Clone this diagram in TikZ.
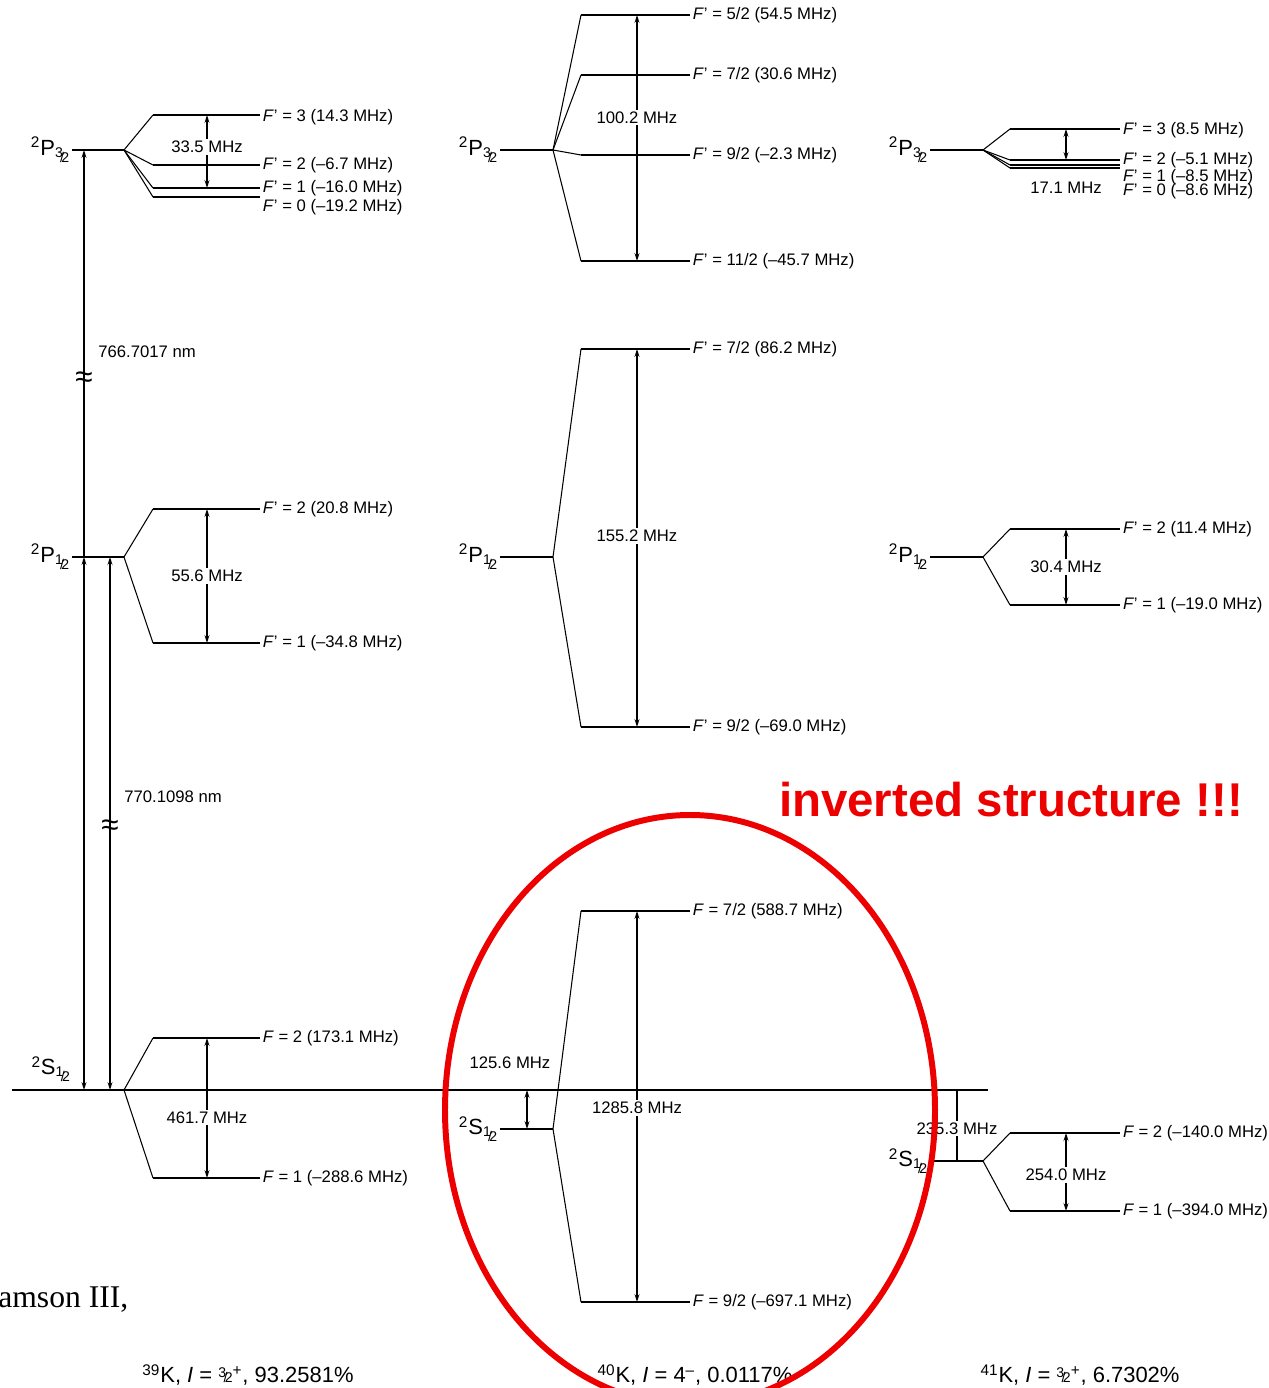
\documentclass[tikz,border=0pt]{standalone}
\usepackage{fontspec}
\setmainfont{Liberation Sans}
\newfontfamily\notefont{Liberation Serif}
\usetikzlibrary{arrows.meta,calc}
\definecolor{RingClr}{rgb}{0.93,0,0}
\newcommand{\hfr}[2]{\raisebox{.45ex}{\footnotesize#1}\kern-.12em{\footnotesize/}\kern-.12em{\footnotesize#2}}
\newcommand{\jsub}[1]{\raisebox{-.6ex}{\hfr{#1}{2}}}
\newcommand{\Fp}{\textit{F\/}' = }
\newcommand{\Fg}{\textit{F\/} = }

\begin{document}
\begin{tikzpicture}[x=0.02cm,y=-0.02cm,
  lvl/.style={line width=1.1pt},
  fan/.style={line width=0.6pt},
  gapline/.style={line width=0.7pt,{Stealth[length=4.5pt,width=2.8pt]}-{Stealth[length=4.5pt,width=2.8pt]}},
  lab/.style={anchor=west,inner sep=1.5pt,font=\fontsize{9.5}{10}\selectfont},
  mhz/.style={fill=white,inner sep=1pt,font=\fontsize{9.5}{10}\selectfont},
  term/.style={inner sep=1pt,font=\fontsize{12.5}{13}\selectfont},
  brk/.style={inner sep=0pt,font=\fontsize{18}{18}\selectfont},
  title/.style={font=\fontsize{12.5}{13}\selectfont}]
\useasboundingbox (0,0) rectangle (1268,1388);

% ground state line
\draw[lvl] (12,1090) -- (988,1090);

% 39K
\coordinate (a3) at (124,150);
\coordinate (a1) at (124,557);
\coordinate (as) at (124,1090);
\draw[lvl] (72,150) node[term,anchor=east] (ta3) {\textsuperscript{2}P\jsub{3}} -- (a3);
\draw[lvl] (72,557) node[term,anchor=east] (ta1) {\textsuperscript{2}P\jsub{1}} -- (a1);
\node[term,anchor=south east] (tas) at (72,1084) {\textsuperscript{2}S\jsub{1}};
\foreach \y/\ly/\t [count=\i] in {115/117/{3 (14.3 MHz)},165/165/{2 (--6.7 MHz)},188/188/{1 (--16.0 MHz)},197/207/{0 (--19.2 MHz)}}
{
  \draw[fan] (a3) -- (153,\y);
  \draw[lvl] (153,\y) -- (260,\y);
  \node[lab] (la3\i) at (260,\ly) {\Fp\t};
}
\foreach \y/\t [count=\i] in {509/{2 (20.8 MHz)},643/{1 (--34.8 MHz)}}
{
  \draw[fan] (a1) -- (153,\y);
  \draw[lvl] (153,\y) -- (260,\y);
  \node[lab] (la1\i) at (260,\y) {\Fp\t};
}
\foreach \y/\t [count=\i] in {1038/{2 (173.1 MHz)},1178/{1 (--288.6 MHz)}}
{
  \draw[fan] (as) -- (153,\y);
  \draw[lvl] (153,\y) -- (260,\y);
  \node[lab] (las\i) at (260,\y) {\Fg\t};
}
\draw[gapline] (207,115) -- (207,188) node[mhz,pos=.44] (da3) {33.5 MHz};
\draw[gapline] (207,509) -- (207,643) node[mhz,midway] (da1) {55.6 MHz};
\draw[gapline] (207,1038) -- (207,1178) node[mhz,pos=.57] (das) {461.7 MHz};

% optical lines
\coordinate (d2a) at (84,1090);
\coordinate (d2b) at (84,557);
\coordinate (d2c) at (84,150);
\coordinate (d1a) at (110,1090);
\coordinate (d1b) at (110,557);
\draw[gapline] (d2a) -- (d2b);
\draw[line width=0.7pt,-{Stealth[length=4.5pt,width=2.8pt]}] (d2b) -- (d2c);
\draw[gapline] (d1a) -- (d1b);
\node[brk] (br2) at (84,380) {≈};
\node[brk] (br1) at (110,828) {≈};
\node[lab,anchor=center] (wl2) at (147,352) {766.7017 nm};
\node[lab,anchor=center] (wl1) at (173,797) {770.1098 nm};

% 40K
\coordinate (b3) at (553,150);
\coordinate (b1) at (553,557);
\coordinate (bs) at (553,1129);
\draw[lvl] (500,150) node[term,anchor=east] (tb3) {\textsuperscript{2}P\jsub{3}} -- (b3);
\draw[lvl] (500,557) node[term,anchor=east] (tb1) {\textsuperscript{2}P\jsub{1}} -- (b1);
\draw[lvl] (500,1129) node[term,anchor=east] (tbs) {\textsuperscript{2}S\jsub{1}} -- (bs);
\foreach \y/\t [count=\i] in {15/{5/2 (54.5 MHz)},75/{7/2 (30.6 MHz)},155/{9/2 (--2.3 MHz)},261/{11/2 (--45.7 MHz)}}
{
  \draw[fan] (b3) -- (581,\y);
  \draw[lvl] (581,\y) -- (690,\y);
  \node[lab] (lb3\i) at (690,\y) {\Fp\t};
}
\foreach \y/\t [count=\i] in {349/{7/2 (86.2 MHz)},727/{9/2 (--69.0 MHz)}}
{
  \draw[fan] (b1) -- (581,\y);
  \draw[lvl] (581,\y) -- (690,\y);
  \node[lab] (lb1\i) at (690,\y) {\Fp\t};
}
\foreach \y/\t [count=\i] in {911/{7/2 (588.7 MHz)},1302/{9/2 (--697.1 MHz)}}
{
  \draw[fan] (bs) -- (581,\y);
  \draw[lvl] (581,\y) -- (690,\y);
  \node[lab] (lbs\i) at (690,\y) {\Fg\t};
}
\draw[gapline] (637,15) -- (637,261) node[mhz,pos=.416] (db3) {100.2 MHz};
\draw[gapline] (637,349) -- (637,727) node[mhz,pos=.495] (db1) {155.2 MHz};
\draw[gapline] (637,911) -- (637,1302) node[mhz,pos=.504] (dbs) {1285.8 MHz};
\draw[gapline] (527,1090) -- (527,1129);
\node[lab,anchor=center] (db0) at (510,1063) {125.6 MHz};

% 41K
\coordinate (c3) at (983,150);
\coordinate (c1) at (983,557);
\coordinate (cs) at (983,1161);
\draw[lvl] (930,150) node[term,anchor=east] (tc3) {\textsuperscript{2}P\jsub{3}} -- (c3);
\draw[lvl] (930,557) node[term,anchor=east] (tc1) {\textsuperscript{2}P\jsub{1}} -- (c1);
\draw[lvl] (930,1161) node[term,anchor=east] (tcs) {\textsuperscript{2}S\jsub{1}} -- (cs);
\foreach \y/\ly/\t [count=\i] in {129/130/{3 (8.5 MHz)},160/160/{2 (--5.1 MHz)},165/177/{1 (--8.5 MHz)},168/191/{0 (--8.6 MHz)}}
{
  \draw[fan] (c3) -- (1010,\y);
  \draw[lvl] (1010,\y) -- (1120,\y);
  \node[lab] (lc3\i) at (1120,\ly) {\Fp\t};
}
\foreach \y/\t [count=\i] in {529/{2 (11.4 MHz)},605/{1 (--19.0 MHz)}}
{
  \draw[fan] (c1) -- (1010,\y);
  \draw[lvl] (1010,\y) -- (1120,\y);
  \node[lab] (lc1\i) at (1120,\y) {\Fp\t};
}
\foreach \y/\t [count=\i] in {1133/{2 (--140.0 MHz)},1211/{1 (--394.0 MHz)}}
{
  \draw[fan] (cs) -- (1010,\y);
  \draw[lvl] (1010,\y) -- (1120,\y);
  \node[lab] (lcs\i) at (1120,\y) {\Fg\t};
}
\draw[gapline] (1066,129) -- (1066,160);
\node[lab,anchor=center] (dc3) at (1066,188) {17.1 MHz};
\draw[gapline] (1066,529) -- (1066,605) node[mhz,midway] (dc1) {30.4 MHz};
\draw[gapline] (1066,1133) -- (1066,1211) node[mhz,pos=.54] (dcs) {254.0 MHz};
\draw[line width=0.7pt] (957,1090) -- (957,1161) node[mhz,pos=.54] (dc0) {235.3 MHz};

% isotopes
\node[title] (k39) at (248,1375) {\textsuperscript{39}K, \textit{I} = \hfr{3}{2}\textsuperscript{+}, 93.2581\%};
\node[title] (k40) at (695,1375) {\textsuperscript{40}K, \textit{I} = 4\textsuperscript{--}, 0.0117\%};
\node[title] (k41) at (1080,1375) {\textsuperscript{41}K, \textit{I} = \hfr{3}{2}\textsuperscript{+}, 6.7302\%};
\node[anchor=west,inner sep=0pt,font=\notefont\fontsize{18}{18}\selectfont] (cut) at (-2,1300) {amson III,};

% note
\draw[RingClr,line width=3.4pt] (690,1110) ellipse [x radius=245,y radius=295];
\node[RingClr,font=\bfseries\fontsize{27}{28}\selectfont] (inv) at (1011,800) {inverted structure !!!};
\end{tikzpicture}
\end{document}
